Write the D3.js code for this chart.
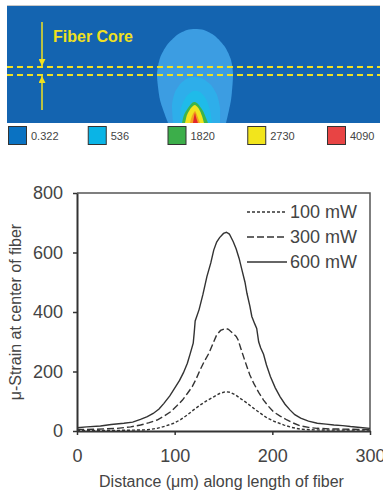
<!DOCTYPE html>
<html>
<head>
<meta charset="utf-8">
<script src="https://cdn.jsdelivr.net/npm/d3@7"></script>
<style>
  body { margin: 0; background: #fff; }
  svg { display: block; font-family: "Liberation Sans", Arial, sans-serif; }
</style>
</head>
<body>
<div id="chart"></div>
<script>
// ---- data ----
// strain along fiber, [distance um, micro-strain]
const series100 = [[0,2],[20,2],[40,2],[60,3],[72,4],[82,9],[90,16],[99,26],[106,38],[113,54],[119,70],[126,87],[133,102],[140,115],[146,126],[152,132],[157,130],[162,122],[167,110],[174,94],[181,76],[188,59],[195,43],[203,31],[212,20],[220,12],[229,6],[240,4],[260,3],[280,3],[300,3]];
const series300 = [[0,5],[20,6],[41,9],[55,14],[65,20],[74,28],[82,37],[89,50],[96,65],[102,84],[108,104],[113,126],[118,149],[122,175],[126,205],[130,232],[135,261],[139,292],[143,323],[147,338],[152,345],[155,342],[159,330],[163,318],[165,306],[168,275],[171,245],[174,216],[177,188],[181,160],[186,130],[191,104],[196,83],[201,65],[208,50],[215,37],[222,26],[229,17],[237,12],[246,9],[260,7],[280,6],[300,5]];
const series600 = [[0,11],[10,14],[24,17],[35,22],[48,26],[57,30],[65,39],[72,48],[78,59],[84,74],[89,93],[95,118],[101,149],[105,170],[109,196],[113,228],[116,261],[119,295],[120,330],[121,370],[125,408],[129,460],[133,519],[137,565],[140,608],[143,635],[146,650],[150,664],[153,668],[156,662],[160,636],[163,612],[166,580],[169,540],[172,500],[174,463],[177,420],[179,385],[182,360],[184,345],[186,300],[188,280],[191,258],[194,222],[198,183],[203,145],[208,115],[213,90],[218,71],[223,55],[229,43],[237,33],[246,26],[255,23],[263,20],[272,18],[280,15],[290,12],[300,9]];
const seriesNames = ["100 mW", "300 mW", "600 mW"];
const xTicks = [0, 100, 200, 300];
const yTicks = [0, 200, 400, 600, 800];

// heat map contours, [position along panel, height above bottom]
const contour1 = [[161,0],[153,23],[150,48],[153,65],[160,78],[170,88],[180,93],[188,94],[197,93],[208,87],[218,76],[224,63],[226,48],[224,23],[219,0]];
const contour2 = [[166,0],[165,18],[168,31],[174,40],[181,45],[188,46],[196,44],[204,38],[210,28],[213,15],[213,0]];
const contour3 = [[173,0],[174,15],[179,26],[186,32],[193,31],[199,24],[203,13],[205,0]];
const contour4 = [[175,0],[177,8],[181,15],[185,20],[188,21],[191,19],[196,12],[199,5],[201,0]];
const contour5 = [[178,0],[180,8],[184,15],[188,18],[192,14],[195,7],[197,0]];
const contour6 = [[183,0],[185,7],[188,12],[190,8],[193,0]];
const contour7 = [[186,0],[187,6],[188,10],[189,6],[191,0]];
const legendValues = ["0.322", "536", "1820", "2730", "4090"];

const width = 383, height = 498;
const svg = d3.select('#chart').append('svg')
    .attr('width', width)
    .attr('height', height);

// ---- top panel: heat map ----
const panel = { left: 7, right: 380, top: 6, bottom: 123 };
const px = d3.scaleLinear().domain([0, 373]).range([panel.left, panel.right]);
const py = d3.scaleLinear().domain([0, 117]).range([panel.bottom, panel.top]);

svg.append('rect')
    .attr('x', px(0)).attr('y', py(117))
    .attr('width', px(373) - px(0)).attr('height', py(0) - py(117))
    .attr('fill', '#1464b0');
svg.append('line')
    .attr('x1', px(0)).attr('x2', px(373))
    .attr('y1', py(117) - 0.5).attr('y2', py(117) - 0.5)
    .attr('stroke', '#c8c8c8');

const blob = d3.line()
    .x(d => px(d[0]))
    .y(d => py(d[1]))
    .curve(d3.curveCardinal.tension(0.3));

const contours = [
    [contour1, '#3c9de2'],
    [contour2, '#2eaeea'],
    [contour3, '#1fbbe9'],
    [contour4, '#3cb44a'],
    [contour5, '#f1e41e'],
    [contour6, '#f4a020'],
    [contour7, '#e2262a']
];
svg.append('g')
    .selectAll('path')
    .data(contours)
    .enter()
    .append('path')
    .attr('d', d => blob(d[0]) + 'Z')
    .attr('fill', d => d[1]);

// fiber core dashed lines
svg.append('g')
    .selectAll('line')
    .data([56, 48])
    .enter()
    .append('line')
    .attr('x1', px(0)).attr('x2', px(373))
    .attr('y1', d => py(d)).attr('y2', d => py(d))
    .attr('stroke', '#f0e020')
    .attr('stroke-width', 2)
    .attr('stroke-dasharray', '6,4');

// arrows
const defs = svg.append('defs');
defs.append('marker')
    .attr('id', 'arrow')
    .attr('viewBox', '0 0 10 10')
    .attr('refX', 10).attr('refY', 5)
    .attr('markerWidth', 7).attr('markerHeight', 7)
    .attr('markerUnits', 'userSpaceOnUse')
    .attr('orient', 'auto')
    .append('path')
    .attr('d', 'M0,0 L10,5 L0,10 Z')
    .attr('fill', '#f0e020');

svg.append('line')
    .attr('x1', px(35)).attr('x2', px(35))
    .attr('y1', py(101)).attr('y2', py(56) - 1)
    .attr('stroke', '#f0e020').attr('stroke-width', 1.5)
    .attr('marker-end', 'url(#arrow)');
svg.append('line')
    .attr('x1', px(35)).attr('x2', px(35))
    .attr('y1', py(13)).attr('y2', py(48) + 1)
    .attr('stroke', '#f0e020').attr('stroke-width', 1.5)
    .attr('marker-end', 'url(#arrow)');

svg.append('text')
    .attr('x', px(46)).attr('y', 42)
    .attr('font-size', '16px')
    .attr('font-weight', 'bold')
    .attr('fill', '#f0e020')
    .text('Fiber Core');

// color legend
const legendColors = ['#0a72c2', '#0ab4e6', '#3cae4a', '#f2e51c', '#e84444'];
const legendX = d3.scalePoint().domain(legendValues).range([8, 327]);
const lg = svg.append('g')
    .selectAll('g')
    .data(legendValues)
    .enter()
    .append('g')
    .attr('transform', d => `translate(${legendX(d)},126)`);
lg.append('rect')
    .attr('x', 0.5).attr('y', 0.5)
    .attr('width', 18).attr('height', 18)
    .attr('fill', (d, i) => legendColors[i])
    .attr('stroke', '#333');
lg.append('text')
    .attr('x', 23).attr('y', 14)
    .attr('font-size', '11px')
    .attr('fill', '#444')
    .text(d => d);

// ---- bottom panel: line chart ----
const margin = { top: 193, right: 13, bottom: 67, left: 77 };
const x = d3.scaleLinear().domain([0, 300]).range([margin.left, width - margin.right]);
const y = d3.scaleLinear().domain([0, 800]).range([height - margin.bottom, margin.top]);

// frame (top + right)
svg.append('path')
    .attr('d', `M${x(0)},${y(800)}H${x(300)}V${y(0)}`)
    .attr('fill', 'none')
    .attr('stroke', '#555')
    .attr('stroke-width', 1.5);

const line = d3.line()
    .x(d => x(d[0]))
    .y(d => y(d[1]));

const styles = [
    { data: series100, dash: '3,2' },
    { data: series300, dash: '7,3' },
    { data: series600, dash: null }
];
svg.append('g')
    .selectAll('path')
    .data(styles)
    .enter()
    .append('path')
    .attr('d', d => line(d.data))
    .attr('fill', 'none')
    .attr('stroke', '#333')
    .attr('stroke-width', 1.4)
    .attr('stroke-dasharray', d => d.dash);

// axes
const xAxis = svg.append('g')
    .attr('transform', `translate(0,${y(0)})`)
    .call(d3.axisBottom(x).tickValues(xTicks).tickSize(4).tickPadding(14).tickSizeOuter(0));
const yAxis = svg.append('g')
    .attr('transform', `translate(${x(0)},0)`)
    .call(d3.axisLeft(y).tickValues(yTicks).tickSize(4).tickPadding(10).tickSizeOuter(0));

[xAxis, yAxis].forEach(a => {
    a.select('.domain').attr('stroke', '#333').attr('stroke-width', 2);
    a.selectAll('.tick line').attr('stroke', '#333').attr('stroke-width', 1.5);
    a.selectAll('.tick text')
        .attr('font-size', '18px')
        .attr('fill', '#444')
        .style('font-family', '"Liberation Sans", Arial, sans-serif');
});

// axis titles
svg.append('text')
    .attr('x', (x(0) + x(300)) / 2 - 2)
    .attr('y', 487)
    .attr('text-anchor', 'middle')
    .attr('font-size', '16px')
    .attr('fill', '#444')
    .text('Distance (μm) along length of fiber');

svg.append('text')
    .attr('transform', `translate(21,${(y(0) + y(800)) / 2}) rotate(-90)`)
    .attr('text-anchor', 'middle')
    .attr('font-size', '16px')
    .attr('fill', '#444')
    .text('μ-Strain at center of fiber');

// line legend
const keyY = d3.scalePoint().domain(seriesNames).range([212, 262]);
const key = svg.append('g')
    .selectAll('g')
    .data(styles)
    .enter()
    .append('g')
    .attr('transform', (d, i) => `translate(247,${keyY(seriesNames[i])})`);
key.append('line')
    .attr('x1', 0).attr('x2', 40)
    .attr('stroke', '#333')
    .attr('stroke-width', 1.4)
    .attr('stroke-dasharray', d => d.dash);
key.append('text')
    .attr('x', 43).attr('dy', '0.36em')
    .attr('font-size', '18px')
    .attr('fill', '#444')
    .text((d, i) => seriesNames[i]);
</script>
</body>
</html>
